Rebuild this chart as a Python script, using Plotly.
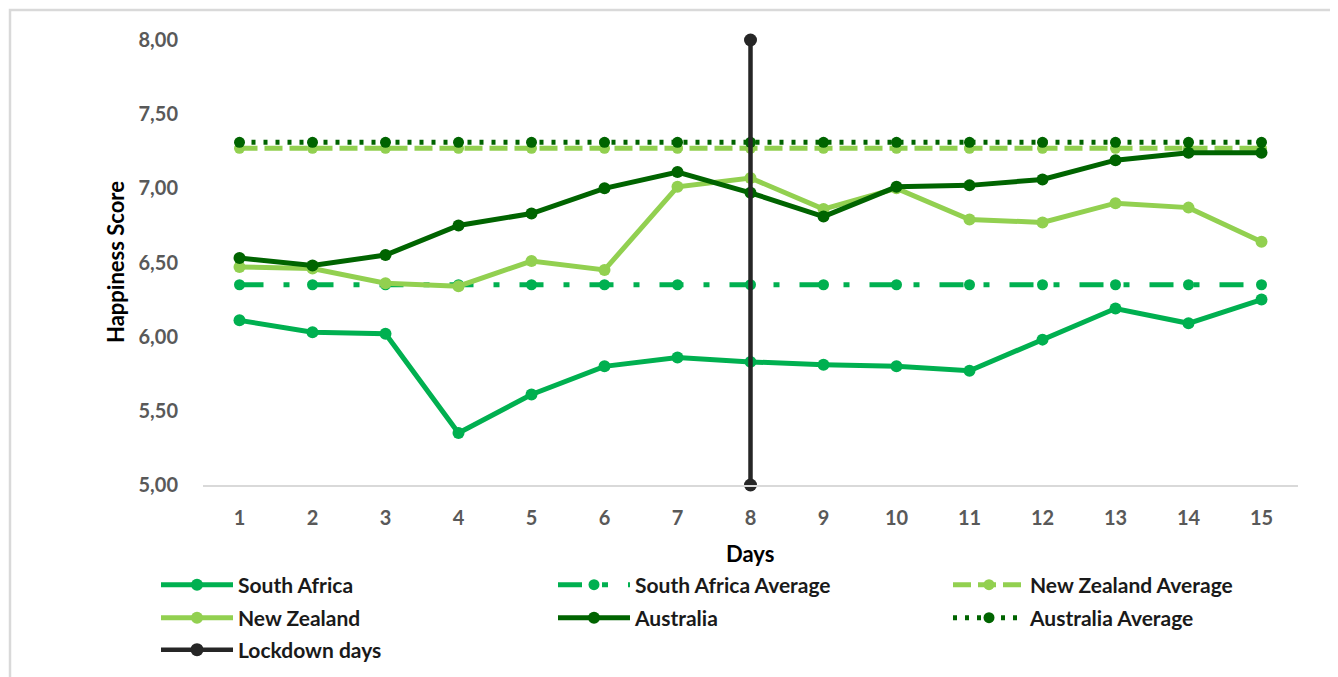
import plotly.graph_objects as go

days = list(range(1, 16))
south_africa = [6.11, 6.03, 6.02, 5.35, 5.61, 5.80, 5.86, 5.83, 5.81, 5.80, 5.77, 5.98, 6.19, 6.09, 6.25]
new_zealand = [6.47, 6.46, 6.36, 6.34, 6.51, 6.45, 7.01, 7.07, 6.86, 7.00, 6.79, 6.77, 6.90, 6.87, 6.64]
australia = [6.53, 6.48, 6.55, 6.75, 6.83, 7.00, 7.11, 6.97, 6.81, 7.01, 7.02, 7.06, 7.19, 7.24, 7.24]
sa_avg = [6.35] * 15
nz_avg = [7.27] * 15
aus_avg = [7.31] * 15
lockdown_x = [8, 8]
lockdown_y = [5.0, 8.0]
yticks = [5.0, 5.5, 6.0, 6.5, 7.0, 7.5, 8.0]

C_SA = "#00B050"
C_NZ = "#92D050"
C_AU = "#006400"
C_LK = "#262626"

FONT = "Lato"
fig = go.Figure()

def add(name, y, color, dash, legend, msize=12, width=5, x=None, clip=True):
    fig.add_trace(go.Scatter(
        x=x if x is not None else days, y=y, name=name, mode="lines+markers",
        line=dict(color=color, width=width, dash=dash),
        marker=dict(color=color, size=msize, symbol="circle"),
        legend=legend, cliponaxis=clip,
    ))

add("South Africa", south_africa, C_SA, "solid", "legend")
add("South Africa Average", sa_avg, C_SA, "24px,20px,6px,20px", "legend2", msize=11)
add("New Zealand Average", nz_avg, C_NZ, "18px,7px", "legend3", msize=11)
add("New Zealand", new_zealand, C_NZ, "solid", "legend4")
add("Australia", australia, C_AU, "solid", "legend5")
add("Australia Average", aus_avg, C_AU, "4px,8px", "legend6", msize=11)
add("Lockdown days", lockdown_y, C_LK, "solid", "legend7", msize=13, width=4.5, x=lockdown_x, clip=False)

W, H = 1330, 669
L, R, T, B = 195, 40, 32, 192
pw, ph = W - L - R, H - T - B
OFF = 8  # page offset of the figure inside the browser window


def px(x):
    return (x - OFF - L) / pw


def py(y):
    return (H - B - (y - OFF)) / ph


def leg(text_x, center_y):
    return dict(
        orientation="h", xref="container", yref="container", xanchor="left", yanchor="middle",
        x=(text_x - OFF - 82) / W, y=1 - (center_y - OFF) / H,
        font=dict(family=FONT, size=21, color="#1a1a1a", weight="bold"),
        bgcolor="rgba(0,0,0,0)", itemwidth=72,
    )


cols = [238, 635, 1030]
rows = [585, 618, 650]

fig.update_layout(
    width=W, height=H,
    margin=dict(l=L, r=R, t=T, b=B, autoexpand=False),
    paper_bgcolor="white", plot_bgcolor="white",
    separators=",.",
    showlegend=True,
    legend=leg(cols[0], rows[0]),
    legend2=leg(cols[1], rows[0]),
    legend3=leg(cols[2], rows[0]),
    legend4=leg(cols[0], rows[1]),
    legend5=leg(cols[1], rows[1]),
    legend6=leg(cols[2], rows[1]),
    legend7=leg(cols[0], rows[2]),
    xaxis=dict(
        range=[0.5, 15.5], tickmode="array", tickvals=days, ticktext=[str(d) for d in days],
        showgrid=False, zeroline=False, showline=True, linecolor="#d9d9d9", linewidth=1.5,
        ticks="outside", ticklen=14, tickcolor="rgba(0,0,0,0)",
        tickfont=dict(family=FONT, size=20, color="#595959", weight="bold"),
    ),
    yaxis=dict(
        range=[5, 8], tickmode="array", tickvals=yticks, tickformat=".2f",
        showgrid=False, zeroline=False, showline=False,
        ticks="outside", ticklen=20, tickcolor="rgba(0,0,0,0)",
        tickfont=dict(family=FONT, size=20, color="#595959", weight="bold"),
    ),
    annotations=[
        dict(text="Happiness Score", xref="paper", yref="paper", x=px(116), y=py(262),
             xanchor="center", yanchor="middle",
             textangle=-90, showarrow=False, font=dict(family=FONT, size=22, color="black", weight="bold")),
        dict(text="Days", xref="paper", yref="paper", x=px(750), y=py(553),
             xanchor="center", yanchor="middle",
             showarrow=False, font=dict(family=FONT, size=22, color="black", weight="bold")),
    ],
    shapes=[
        dict(type="rect", xref="paper", yref="paper", x0=px(10), x1=px(1336), y0=py(700), y1=py(10),
             line=dict(color="#d9d9d9", width=2.5), layer="below"),
    ],
)

fig.write_html("out.html")
